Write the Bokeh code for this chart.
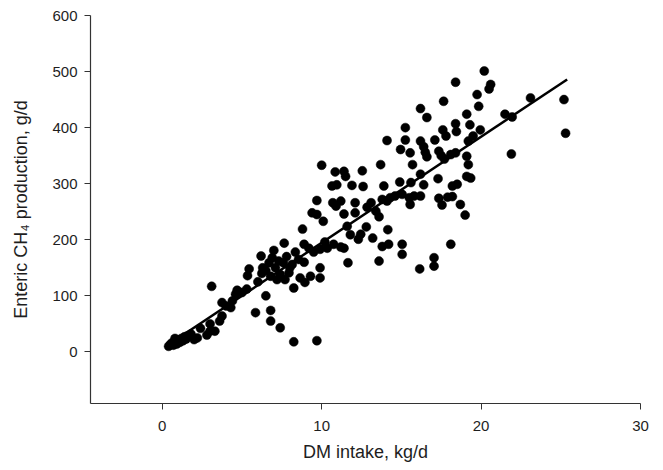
from bokeh.plotting import figure
from bokeh.models import ColumnDataSource, Range1d, FixedTicker
from bokeh.embed import file_html
from bokeh.resources import INLINE

# DM intake (kg/d)
dmi = [
    0.4, 0.5, 0.6, 0.7, 0.8, 0.9, 1.0, 1.1, 1.2, 1.3, 1.4, 1.5, 1.6, 0.8, 1.8,
    2.2, 2.4, 3.0, 3.0, 3.3, 3.1, 3.6, 3.75, 3.75, 4.0, 4.3, 4.4, 4.6, 4.7, 5.0, 5.3,
    5.45, 5.35, 5.85, 6.0, 6.2, 6.25, 6.5, 6.8, 6.8, 7.4, 8.25, 9.7, 2.0, 2.8,
    8.25, 8.95, 6.3, 6.7, 7.1, 7.6, 8.15, 8.55, 7.95, 7.4, 6.8, 7.2, 7.7, 8.65, 9.3,
    9.9, 9.9, 7.65, 7.0, 8.35, 8.8, 9.4, 9.7, 10.1, 9.7,
    8.9, 9.2, 9.5, 9.9, 10.2, 10.35, 10.75, 11.2, 11.4,
    6.5, 7.3, 8.0, 6.9, 7.8, 8.9,
    10.0, 10.85, 11.4, 11.5, 12.55, 10.65, 10.95, 11.9, 12.6, 10.7, 10.9, 11.2, 12.1,
    11.4, 12.1, 12.85, 11.6, 11.8, 12.45, 12.3, 12.8, 13.2, 13.8, 14.2, 13.6, 11.65,
    13.1, 13.4, 13.6, 13.7, 13.9,
    13.8, 14.1, 14.3, 14.6, 15.05, 15.5, 15.8, 16.2, 15.55, 14.15, 15.05, 15.05, 16.15,
    17.05, 17.05, 18.1, 14.9, 15.6, 16.2, 16.4, 15.7, 14.1, 15.25, 15.25, 14.95, 15.55,
    16.2, 16.4, 16.5, 16.6, 16.2, 16.6,
    17.1, 17.35, 17.5, 17.7, 18.1, 18.4, 19.1, 19.2, 19.1, 19.35, 17.3, 18.2, 18.5,
    17.35, 17.55, 17.9, 18.2, 18.7, 19.0,
    17.65, 18.4, 20.2, 20.6, 20.5, 19.75, 19.85, 19.1, 18.4, 19.3, 18.45, 19.95, 17.6,
    17.8, 19.5, 19.2,
    21.5, 21.95, 23.1, 21.9, 25.2, 25.3,
]

# Enteric CH4 production (g/d)
ch4 = [
    10, 13, 16, 12, 18, 14, 21, 17, 24, 20, 27, 23, 29, 24, 32,
    25, 42, 50, 37, 37, 117, 55, 64, 88, 82, 79, 91, 103, 110, 106, 112,
    148, 136, 70, 125, 171, 140, 100, 74, 55, 43, 18, 20, 22, 30,
    114, 124, 150, 159, 150, 159, 156, 165, 141, 138, 135, 129, 129, 132, 135,
    150, 132, 194, 181, 178, 219, 248, 245, 233, 270,
    192, 185, 178, 183, 196, 185, 192, 187, 185,
    145, 162, 150, 168, 170, 160,
    333, 321, 322, 313, 323, 296, 298, 297, 295, 266, 260, 269, 266,
    246, 248, 258, 224, 209, 210, 201, 223, 203, 188, 192, 162, 159,
    266, 251, 241, 334, 296,
    272, 269, 275, 278, 281, 275, 278, 278, 263, 218, 192, 174, 148,
    168, 153, 192, 303, 302, 317, 298, 334, 377, 400, 378, 361, 355,
    376, 366, 356, 348, 434, 418,
    378, 358, 350, 344, 352, 355, 349, 334, 313, 310, 309, 296, 299,
    274, 262, 276, 277, 263, 244,
    447, 481, 501, 477, 469, 459, 438, 424, 407, 405, 393, 396, 396,
    385, 385, 376,
    424, 419, 453, 353, 450, 390,
]

# regression line end points
fit_x = [0.5, 25.4]
fit_y = [15, 486]

x_ticks = [0, 10, 20, 30]
y_ticks = [0, 100, 200, 300, 400, 500, 600]

FONT = "Liberation Sans"
TXT = "#1e1e1e"

p = figure(frame_width=550, frame_height=388, output_backend="svg",
           toolbar_location=None,
           x_range=Range1d(-4.5, 30), y_range=Range1d(-92, 600),
           min_border_left=90, min_border_right=12, min_border_top=15,
           min_border_bottom=58)
p.outline_line_color = None
p.xgrid.grid_line_color = None
p.ygrid.grid_line_color = None
p.background_fill_color = "white"
p.border_fill_color = "white"

src = ColumnDataSource(data=dict(x=dmi, y=ch4))
p.scatter("x", "y", source=src, size=9, fill_color="black", line_color="black",
          line_width=0.5)
p.line(fit_x, fit_y, line_color="black", line_width=2.5)

for ax in (p.xaxis[0], p.yaxis[0]):
    ax.axis_line_color = "#333333"
    ax.axis_line_width = 1.2
    ax.major_tick_line_color = "#333333"
    ax.major_tick_in = 0
    ax.major_tick_out = 6
    ax.minor_tick_line_color = None
    ax.major_label_text_font = FONT
    ax.major_label_text_font_size = "15px"
    ax.major_label_text_color = TXT
    ax.axis_label_text_font = FONT
    ax.axis_label_text_font_size = "18px"
    ax.axis_label_text_font_style = "normal"
    ax.axis_label_text_color = TXT

p.xaxis[0].ticker = FixedTicker(ticks=x_ticks)
p.yaxis[0].ticker = FixedTicker(ticks=y_ticks)
p.xaxis[0].axis_label = "DM intake, kg/d"
p.yaxis[0].axis_label = "Enteric CH\u2084 production, g/d"
p.xaxis[0].major_label_standoff = 11
p.yaxis[0].major_label_standoff = 7
p.xaxis[0].axis_label_standoff = 8
p.yaxis[0].axis_label_standoff = 18

open("out.html", "w").write(file_html(p, INLINE))
